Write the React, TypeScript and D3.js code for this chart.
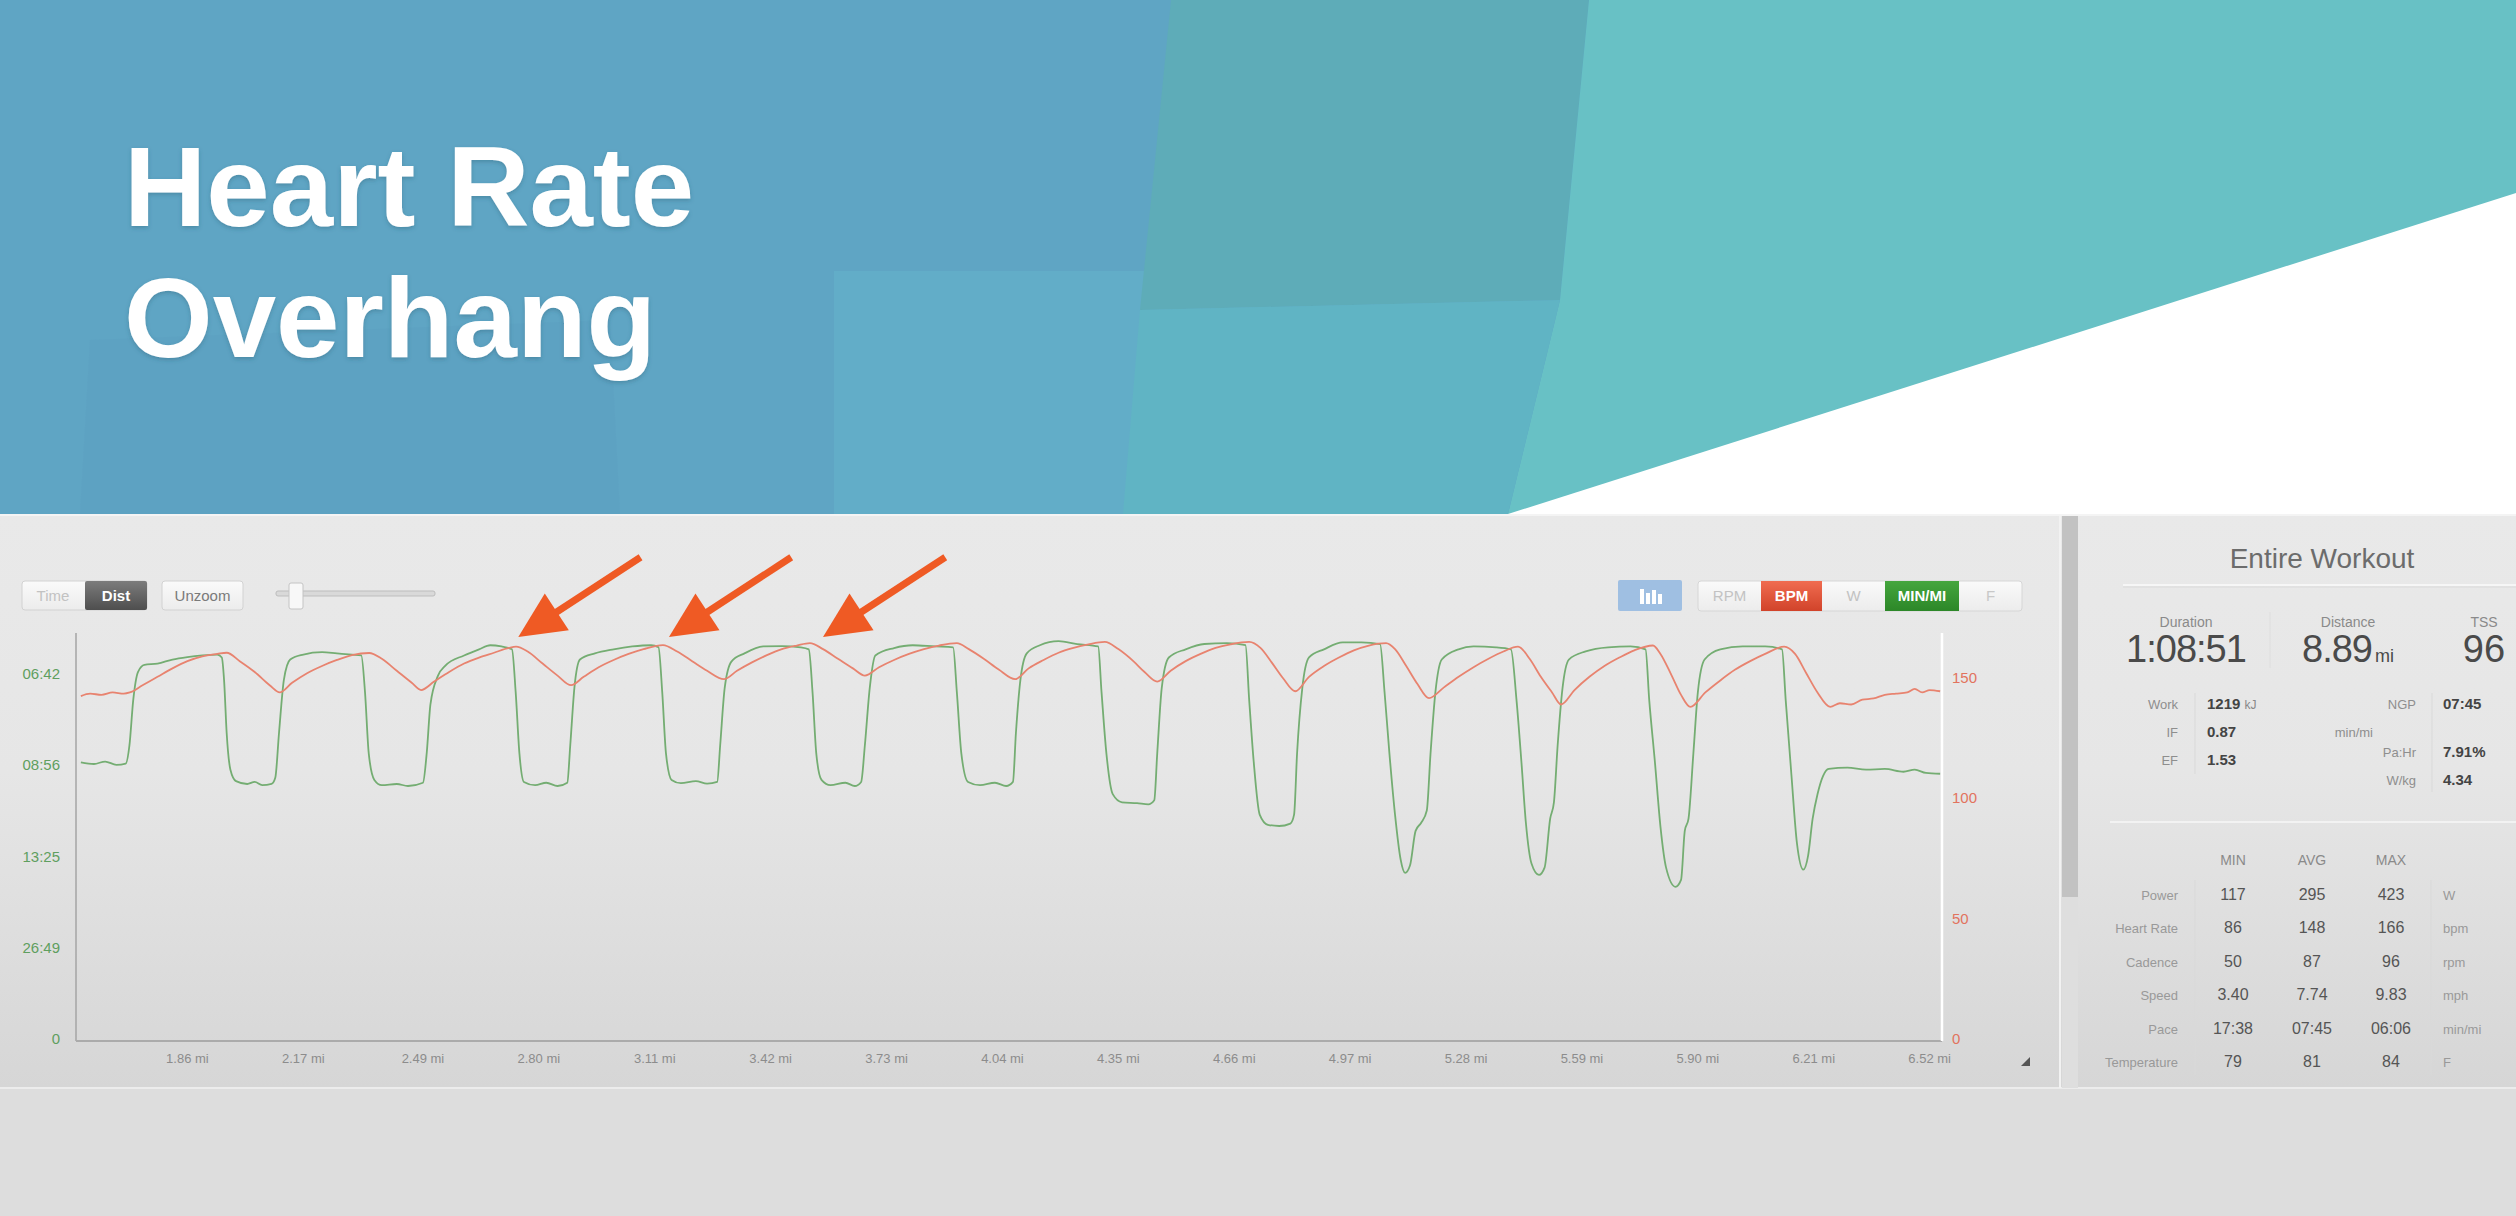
import * as d3 from 'd3'

const W = 2516
const H = 1216

// speed in mph against distance in mi (green, left axis shows pace)
const speedSeries: [number, number][] = [
  [1.575, 6.78], [1.61, 6.74], [1.64, 6.8], [1.67, 6.72], [1.695, 6.75],
  [1.705, 7.2], [1.715, 8.3], [1.728, 9.0], [1.745, 9.17], [1.78, 9.2], [1.82, 9.3], [1.86, 9.36], [1.9, 9.4], [1.94, 9.42], [1.952, 9.35],
  [1.958, 8.8], [1.965, 7.5], [1.975, 6.6], [1.99, 6.32], [2.02, 6.25], [2.04, 6.3], [2.06, 6.22], [2.085, 6.25], [2.095, 6.4],
  [2.105, 7.5], [2.118, 8.8], [2.135, 9.3], [2.17, 9.42], [2.22, 9.48], [2.26, 9.45], [2.3, 9.42], [2.325, 9.4],
  [2.335, 8.5], [2.345, 7.0], [2.36, 6.35], [2.38, 6.22], [2.42, 6.25], [2.45, 6.2], [2.49, 6.28],
  [2.5, 7.0], [2.51, 8.2], [2.53, 8.9], [2.55, 9.15], [2.6, 9.4], [2.64, 9.55], [2.67, 9.65], [2.7, 9.62], [2.728, 9.55],
  [2.738, 8.5], [2.748, 7.0], [2.76, 6.3], [2.79, 6.22], [2.82, 6.28], [2.85, 6.2], [2.876, 6.28],
  [2.884, 7.2], [2.895, 8.6], [2.91, 9.3], [2.95, 9.45], [3.0, 9.55], [3.05, 9.62], [3.1, 9.65], [3.12, 9.6],
  [3.13, 8.5], [3.14, 7.0], [3.155, 6.35], [3.18, 6.27], [3.22, 6.32], [3.25, 6.26], [3.277, 6.3],
  [3.285, 7.2], [3.297, 8.6], [3.315, 9.25], [3.35, 9.45], [3.4, 9.62], [3.45, 9.63], [3.5, 9.6], [3.522, 9.55],
  [3.532, 8.5], [3.542, 7.0], [3.556, 6.35], [3.58, 6.22], [3.62, 6.28], [3.645, 6.2], [3.662, 6.3],
  [3.672, 7.2], [3.685, 8.6], [3.7, 9.4], [3.75, 9.58], [3.8, 9.65], [3.86, 9.62], [3.908, 9.6],
  [3.918, 8.5], [3.93, 7.0], [3.948, 6.3], [3.98, 6.22], [4.02, 6.28], [4.05, 6.2], [4.068, 6.3],
  [4.076, 7.5], [4.088, 8.8], [4.105, 9.45], [4.14, 9.65], [4.19, 9.75], [4.24, 9.68], [4.296, 9.62],
  [4.305, 8.5], [4.318, 7.0], [4.335, 6.0], [4.36, 5.8], [4.4, 5.78], [4.43, 5.75], [4.446, 5.85],
  [4.454, 7.0], [4.466, 8.6], [4.485, 9.35], [4.53, 9.55], [4.58, 9.68], [4.64, 9.7], [4.69, 9.65],
  [4.7, 8.3], [4.712, 6.8], [4.728, 5.5], [4.75, 5.25], [4.78, 5.22], [4.81, 5.28], [4.82, 5.5],
  [4.828, 7.0], [4.842, 8.6], [4.86, 9.35], [4.9, 9.55], [4.95, 9.72], [5.0, 9.72], [5.05, 9.68],
  [5.062, 8.5], [5.075, 7.0], [5.09, 5.5], [5.105, 4.4], [5.117, 4.07], [5.13, 4.25], [5.145, 5.1], [5.16, 5.3], [5.175, 5.6],
  [5.185, 7.0], [5.198, 8.5], [5.215, 9.3], [5.26, 9.55], [5.3, 9.62], [5.36, 9.6], [5.4, 9.55],
  [5.415, 8.3], [5.428, 6.8], [5.44, 5.3], [5.455, 4.3], [5.475, 4.02], [5.49, 4.2], [5.505, 5.4], [5.515, 5.8],
  [5.525, 7.2], [5.538, 8.6], [5.555, 9.3], [5.6, 9.5], [5.66, 9.6], [5.72, 9.62], [5.76, 9.55],
  [5.77, 8.3], [5.785, 6.8], [5.8, 5.2], [5.815, 4.2], [5.84, 3.73], [5.855, 3.9], [5.865, 5.1], [5.875, 5.4],
  [5.888, 7.0], [5.9, 8.5], [5.918, 9.3], [5.96, 9.55], [6.02, 9.62], [6.08, 9.62], [6.125, 9.55],
  [6.135, 8.3], [6.15, 6.5], [6.165, 4.8], [6.182, 4.15], [6.195, 4.5], [6.207, 5.4], [6.22, 6.0], [6.235, 6.45],
  [6.25, 6.62], [6.3, 6.65], [6.35, 6.6], [6.4, 6.62], [6.45, 6.55], [6.48, 6.6], [6.51, 6.52], [6.548, 6.5],
]

// heart rate in bpm against distance in mi (red, right axis)
const hrSeries: [number, number][] = [
  [1.575, 142.5], [1.6, 143.5], [1.63, 143], [1.66, 144], [1.69, 143.5], [1.706, 144],
  [1.74, 147], [1.78, 150.5], [1.82, 154], [1.86, 157], [1.9, 159], [1.94, 160], [1.965, 160.5],
  [2.0, 157], [2.04, 152.5], [2.08, 147], [2.107, 144],
  [2.14, 148], [2.18, 152], [2.22, 155], [2.26, 157.5], [2.3, 159.5], [2.346, 160.4],
  [2.38, 158], [2.42, 153], [2.46, 148], [2.485, 145],
  [2.52, 148.5], [2.56, 152.5], [2.6, 156], [2.64, 158.5], [2.68, 160.5], [2.72, 162.5], [2.739, 163],
  [2.77, 161], [2.81, 156], [2.85, 151], [2.886, 147],
  [2.92, 150.5], [2.96, 154.5], [3.0, 157.5], [3.04, 160], [3.08, 162], [3.132, 163.7],
  [3.17, 161], [3.21, 157], [3.25, 153], [3.295, 149.5],
  [3.33, 153], [3.37, 156.5], [3.41, 159.5], [3.45, 162], [3.49, 163.5], [3.525, 164.5],
  [3.56, 162], [3.6, 158], [3.64, 154], [3.672, 151],
  [3.71, 154.5], [3.75, 157.5], [3.79, 160], [3.83, 162], [3.87, 163.5], [3.918, 164.5],
  [3.95, 162], [3.99, 158], [4.03, 153.5], [4.074, 149.5],
  [4.11, 154], [4.15, 157.5], [4.19, 160.5], [4.23, 162.5], [4.27, 164], [4.314, 165],
  [4.35, 162], [4.39, 157], [4.42, 152.5], [4.454, 148.5],
  [4.49, 153], [4.53, 157], [4.57, 160], [4.61, 162.5], [4.65, 164], [4.7, 165],
  [4.73, 162.5], [4.76, 156.5], [4.79, 150], [4.823, 144.5],
  [4.86, 150.5], [4.9, 155], [4.94, 158.5], [4.98, 161.5], [5.02, 163.5], [5.066, 164.5],
  [5.09, 162], [5.12, 155], [5.15, 147.5], [5.181, 141.6],
  [5.22, 146], [5.26, 150.5], [5.3, 154.5], [5.34, 158], [5.38, 161], [5.419, 163],
  [5.45, 158], [5.48, 150.5], [5.51, 144], [5.534, 139],
  [5.57, 145], [5.61, 150.5], [5.65, 155], [5.69, 158.5], [5.73, 161.5], [5.78, 163.5],
  [5.8, 160], [5.83, 151], [5.855, 143], [5.88, 138],
  [5.92, 144], [5.96, 149], [6.0, 153.5], [6.04, 157], [6.08, 160], [6.131, 163],
  [6.16, 160], [6.19, 152], [6.22, 144], [6.254, 138],
  [6.28, 139.5], [6.31, 139], [6.34, 141], [6.37, 141.5], [6.4, 143], [6.43, 143.5],
  [6.46, 144], [6.48, 145.5], [6.5, 144], [6.52, 145], [6.548, 144.5],
]

const distTicks = [1.86, 2.17, 2.49, 2.8, 3.11, 3.42, 3.73, 4.04, 4.35, 4.66, 4.97, 5.28, 5.59, 5.9, 6.21, 6.52]
const paceTicks = ['0', '26:49', '13:25', '08:56', '06:42']
const bpmTicks = [0, 50, 100, 150]

// annotation arrows point at the heart-rate peaks that overhang the effort
const arrowTargets: [number, number][] = [[2.745, 167], [3.148, 167], [3.56, 167]]

const headerLabels = ['Duration', 'Distance', 'TSS']
const headerValues = ['1:08:51', '8.89', '96']
const leftStats = [['Work', '1219', 'kJ'], ['IF', '0.87', ''], ['EF', '1.53', '']]
const rightStats = [['NGP', '07:45'], ['Pa:Hr', '7.91%'], ['W/kg', '4.34']]
const tableCols = ['MIN', 'AVG', 'MAX']
const tableRows = ['Power', 'Heart Rate', 'Cadence', 'Speed', 'Pace', 'Temperature']
const tableMin = ['117', '86', '50', '3.40', '17:38', '79']
const tableAvg = ['295', '148', '87', '7.74', '07:45', '81']
const tableMax = ['423', '166', '96', '9.83', '06:06', '84']
const tableUnits = ['W', 'bpm', 'rpm', 'mph', 'min/mi', 'F']

const FONT = '"Liberation Sans", Arial, Helvetica, sans-serif'

const paceToSpeed = (p: string) => {
  if (!p.includes(':')) return 0
  const [m, s] = p.split(':').map(Number)
  return 60 / (m + s / 60)
}

export default function App() {
  const left = 76
  const right = 1942
  const top = 633
  const bottom = 1039

  const x = d3.scaleLinear().domain([1.562, 6.553]).range([left, right])
  const ySpeed = d3.scaleLinear().domain([0, 9.95]).range([bottom, top])
  const yHr = d3.scaleLinear().domain([0, 168.7]).range([bottom, top])

  const speedLine = d3.line<[number, number]>()
    .x((d) => x(d[0]))
    .y((d) => ySpeed(d[1]))
    .curve(d3.curveMonotoneX)
  const hrLine = d3.line<[number, number]>()
    .x((d) => x(d[0]))
    .y((d) => yHr(d[1]))
    .curve(d3.curveMonotoneX)

  // arrow geometry
  const ux = -121 / 144.5
  const uy = 79 / 144.5
  const arrows = arrowTargets.map(([dd, hr]) => {
    const tx = x(dd)
    const ty = yHr(hr)
    const tailX = tx - ux * 146
    const tailY = ty - uy * 146
    const bx = tx - ux * 46
    const by = ty - uy * 46
    const nx = uy
    const ny = -ux
    return { tx, ty, tailX, tailY, bx, by, nx, ny }
  })

  const rowY = (i: number) => 900 + i * 33.4
  const colX = [2233, 2312, 2391]

  return (
    <svg width={W} height={H} style={{ position: 'absolute', left: 0, top: 0, display: 'block' }} fontFamily={FONT}>
      <defs>
        <linearGradient id="panelBg" x1="0" y1="0" x2="0" y2="1">
          <stop offset="0" stopColor="#e9e9e9" />
          <stop offset="0.45" stopColor="#e6e6e6" />
          <stop offset="1" stopColor="#d6d6d6" />
        </linearGradient>
        <linearGradient id="btnBg" x1="0" y1="0" x2="0" y2="1">
          <stop offset="0" stopColor="#fafafa" />
          <stop offset="1" stopColor="#ececec" />
        </linearGradient>
        <linearGradient id="darkBtn" x1="0" y1="0" x2="0" y2="1">
          <stop offset="0" stopColor="#7c7c7c" />
          <stop offset="1" stopColor="#4e4e4e" />
        </linearGradient>
        <linearGradient id="redBtn" x1="0" y1="0" x2="0" y2="1">
          <stop offset="0" stopColor="#f06c50" />
          <stop offset="1" stopColor="#d1432a" />
        </linearGradient>
        <linearGradient id="greenBtn" x1="0" y1="0" x2="0" y2="1">
          <stop offset="0" stopColor="#45a63e" />
          <stop offset="1" stopColor="#2c8728" />
        </linearGradient>
        <filter id="txtShadow" x="-5%" y="-5%" width="110%" height="120%">
          <feDropShadow dx="0" dy="2" stdDeviation="2" floodColor="#2a5a70" floodOpacity="0.35" />
        </filter>
      </defs>

      {/* banner */}
      <rect x={0} y={0} width={W} height={514} fill="#5fa5c4" />
      <polygon points="90,340 610,320 620,514 80,514" fill="#5c9fc0" opacity={0.35} />
      <polygon points="834,271 1520,271 1508,514 834,514" fill="#64b1ca" opacity={0.7} />
      <polygon points="1171,0 1589,0 1560,300 1140,310" fill="#5eacb8" />
      <polygon points="1589,0 2516,0 2516,514 1508,514 1560,300" fill="#68c1c5" />
      <polygon points="1140,310 1560,300 1508,514 1123,514" fill="#60b4c4" />
      <polygon points="1508,514 2516,514 2516,193" fill="#ffffff" />
      <g fill="#ffffff" fontWeight="bold" fontSize={114} filter="url(#txtShadow)">
        <text x={124} y={226}>Heart Rate</text>
        <text x={124} y={357}>Overhang</text>
      </g>

      {/* panels */}
      <rect x={0} y={514} width={W} height={574} fill="url(#panelBg)" />
      <line x1={0} x2={W} y1={515} y2={515} stroke="#f4f4f4" strokeWidth={2} />
      <rect x={0} y={1088} width={W} height={H - 1088} fill="#dddddd" />
      <line x1={0} x2={W} y1={1088} y2={1088} stroke="#ececec" strokeWidth={2} />
      <line x1={2060} x2={2060} y1={516} y2={1088} stroke="#f2f2f2" strokeWidth={2} />
      <rect x={2062} y={516} width={16} height={572} fill="#dedede" />
      <rect x={2062} y={516} width={16} height={381} fill="#c2c2c2" />

      {/* toolbar left */}
      <rect x={22} y={581} width={125} height={29} rx={3} fill="url(#btnBg)" stroke="#d2d2d2" />
      <rect x={85} y={581} width={62} height={29} rx={2} fill="url(#darkBtn)" />
      <text x={53} y={601} fontSize={15} fill="#c2c2c2" textAnchor="middle">Time</text>
      <text x={116} y={601} fontSize={15} fill="#ffffff" fontWeight="bold" textAnchor="middle">Dist</text>
      <rect x={162} y={581} width={81} height={29} rx={3} fill="url(#btnBg)" stroke="#d2d2d2" />
      <text x={202.5} y={601} fontSize={15} fill="#7a7a7a" textAnchor="middle">Unzoom</text>
      <rect x={276} y={591} width={159} height={5} rx={2} fill="#d9d9d9" stroke="#bdbdbd" />
      <rect x={289} y={583} width={14} height={26} rx={2} fill="#f8f8f8" stroke="#c4c4c4" />

      {/* toolbar right */}
      <rect x={1618} y={580} width={64} height={31} rx={2} fill="#9fbfe2" />
      <g fill="#ffffff">
        <rect x={1640} y={589} width={4} height={15} />
        <rect x={1646} y={593} width={4} height={11} />
        <rect x={1652} y={590} width={4} height={14} />
        <rect x={1658} y={594} width={4} height={10} />
      </g>
      <rect x={1698} y={581} width={324} height={30} rx={3} fill="url(#btnBg)" stroke="#d6d6d6" />
      <rect x={1761} y={581} width={61} height={30} fill="url(#redBtn)" />
      <rect x={1885} y={581} width={74} height={30} fill="url(#greenBtn)" />
      <g fontSize={15} textAnchor="middle">
        <text x={1729.5} y={601} fill="#c2c2c2">RPM</text>
        <text x={1791.5} y={601} fill="#ffffff" fontWeight="bold">BPM</text>
        <text x={1853.5} y={601} fill="#c2c2c2">W</text>
        <text x={1922} y={601} fill="#ffffff" fontWeight="bold">MIN/MI</text>
        <text x={1990.5} y={601} fill="#c8c8c8">F</text>
      </g>

      {/* axes */}
      <line x1={left} x2={left} y1={top} y2={bottom + 2} stroke="#a4a4a4" strokeWidth={1.5} />
      <line x1={left} x2={right} y1={bottom + 2} y2={bottom + 2} stroke="#ababab" strokeWidth={2} />
      <line x1={right} x2={right} y1={top} y2={bottom + 2} stroke="#ffffff" strokeWidth={2.5} />

      {paceTicks.map((p) => (
        <text key={p} x={60} y={ySpeed(paceToSpeed(p)) + 5} fontSize={15} fill="#5f9f5f" textAnchor="end">{p}</text>
      ))}
      {bpmTicks.map((b) => (
        <text key={b} x={1952} y={yHr(b) + 5} fontSize={15} fill="#e2735e">{b}</text>
      ))}
      {distTicks.map((d) => (
        <text key={d} x={x(d)} y={1063} fontSize={13} fill="#8c8c8c" textAnchor="middle">{`${d.toFixed(2)} mi`}</text>
      ))}
      <polygon points="2021,1066 2030,1057 2030,1066" fill="#555555" />

      {/* series */}
      <path d={speedLine(speedSeries) ?? ''} fill="none" stroke="#74ad72" strokeWidth={1.8} strokeLinejoin="round" />
      <path d={hrLine(hrSeries) ?? ''} fill="none" stroke="#e8836f" strokeWidth={1.8} strokeLinejoin="round" />

      {/* arrows */}
      {arrows.map((a, i) => (
        <g key={i} fill="#ef5a24" stroke="none">
          <line x1={a.tailX} y1={a.tailY} x2={a.bx + ux * 2} y2={a.by + uy * 2} stroke="#ef5a24" strokeWidth={7} />
          <polygon points={`${a.tx},${a.ty} ${a.bx + a.nx * 22},${a.by + a.ny * 22} ${a.bx - a.nx * 22},${a.by - a.ny * 22}`} />
        </g>
      ))}

      {/* summary panel */}
      <text x={2322} y={568} fontSize={28} fill="#6c6c6c" textAnchor="middle">Entire Workout</text>
      <line x1={2123} x2={W} y1={585} y2={585} stroke="#f6f6f6" strokeWidth={2} />
      <line x1={2123} x2={W} y1={587} y2={587} stroke="#dadada" strokeWidth={1} />
      {headerLabels.map((l, i) => (
        <text key={l} x={[2186, 2348, 2484][i]} y={627} fontSize={14} fill="#8a8a8a" textAnchor="middle">{l}</text>
      ))}
      <text x={2186} y={662} fontSize={38} fill="#4a4a4a" textAnchor="middle" letterSpacing={-1}>{headerValues[0]}</text>
      <text x={2348} y={662} fill="#4a4a4a" textAnchor="middle">
        <tspan fontSize={38} letterSpacing={-1}>{headerValues[1]}</tspan>
        <tspan fontSize={18} dx={3}>mi</tspan>
      </text>
      <text x={2484} y={662} fontSize={38} fill="#4a4a4a" textAnchor="middle">{headerValues[2]}</text>
      <line x1={2270} x2={2270} y1={612} y2={668} stroke="#dedede" />

      {leftStats.map(([l, v, u], i) => (
        <g key={l}>
          <text x={2178} y={709 + i * 28} fontSize={13} fill="#8e8e8e" textAnchor="end">{l}</text>
          <text x={2207} y={709 + i * 28} fontSize={15} fill="#444444" fontWeight="bold">
            {v}
            {u && <tspan fontSize={12} fill="#888888" fontWeight="normal" dx={4}>{u}</tspan>}
          </text>
        </g>
      ))}
      <text x={2373} y={737} fontSize={13} fill="#8e8e8e" textAnchor="end">min/mi</text>
      {rightStats.map(([l, v], i) => (
        <g key={l}>
          <text x={2416} y={[709, 757, 785][i]} fontSize={13} fill="#8e8e8e" textAnchor="end">{l}</text>
          <text x={2443} y={[709, 757, 785][i]} fontSize={15} fill="#444444" fontWeight="bold">{v}</text>
        </g>
      ))}
      <line x1={2195} x2={2195} y1={693} y2={774} stroke="#d9d9d9" />
      <line x1={2432} x2={2432} y1={693} y2={792} stroke="#d9d9d9" />
      <line x1={2110} x2={W} y1={822} y2={822} stroke="#f2f2f2" strokeWidth={2} />

      {tableCols.map((c, i) => (
        <text key={c} x={colX[i]} y={865} fontSize={14} fill="#8a8a8a" textAnchor="middle">{c}</text>
      ))}
      {tableRows.map((r, i) => (
        <g key={r}>
          <text x={2178} y={rowY(i)} fontSize={13} fill="#999999" textAnchor="end">{r}</text>
          <text x={colX[0]} y={rowY(i)} fontSize={16} fill="#555555" textAnchor="middle">{tableMin[i]}</text>
          <text x={colX[1]} y={rowY(i)} fontSize={16} fill="#555555" textAnchor="middle">{tableAvg[i]}</text>
          <text x={colX[2]} y={rowY(i)} fontSize={16} fill="#555555" textAnchor="middle">{tableMax[i]}</text>
          <text x={2443} y={rowY(i)} fontSize={13} fill="#999999">{tableUnits[i]}</text>
        </g>
      ))}
      <line x1={2195} x2={2195} y1={880} y2={1075} stroke="#d9d9d9" />
      <line x1={2431} x2={2431} y1={880} y2={1075} stroke="#d9d9d9" />
    </svg>
  )
}
